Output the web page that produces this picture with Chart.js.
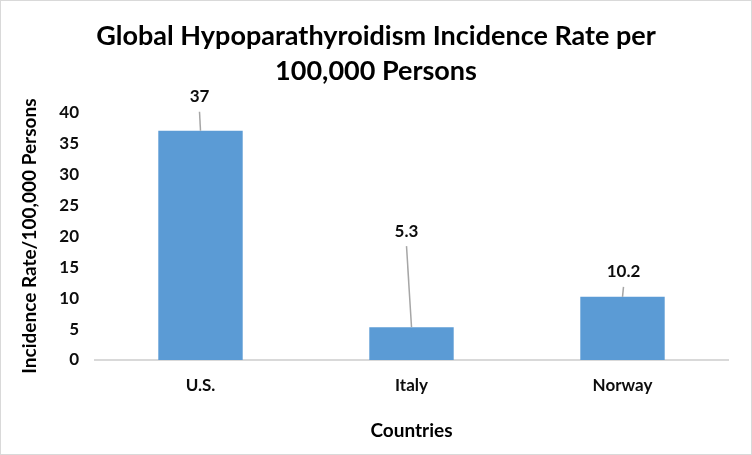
<!DOCTYPE html>
<html>
<head>
<meta charset="utf-8">
<script src="https://cdn.jsdelivr.net/npm/chart.js@4"></script>
<style>
  html, body { margin: 0; padding: 0; background: #fff; }
  #wrap { width: 752px; height: 455px; position: relative; }
</style>
</head>
<body>
<div id="wrap"><canvas id="incidenceChart" width="752" height="455"></canvas></div>
<script>
// data
var countries = ['U.S.', 'Italy', 'Norway'];
var incidence = [37, 5.3, 10.2];
var valueLabels = ['37', '5.3', '10.2'];
var yTicks = [0, 5, 10, 15, 20, 25, 30, 35, 40];

var FONT = 'Lato, "Open Sans", sans-serif';

// labels sit above the bars with a small grey leader line (pixel offsets from the bar top)
var labelOffsets = [[-1, -34], [-5, -96], [1, -25]];

var leaderLabels = {
  id: 'leaderLabels',
  afterDatasetsDraw: function(chart) {
    var ctx = chart.ctx;
    var meta = chart.getDatasetMeta(0);
    ctx.save();
    meta.data.forEach(function(bar, i) {
      var off = labelOffsets[i];
      var tx = bar.x + off[0];
      var ty = bar.y + off[1];
      // leader line
      ctx.strokeStyle = '#a6a6a6';
      ctx.lineWidth = 1.5;
      ctx.beginPath();
      ctx.moveTo(tx, ty + 15);
      ctx.lineTo(bar.x, bar.y);
      ctx.stroke();
      ctx.fillStyle = '#0d0d0d';
      ctx.font = 'bold 17px ' + FONT;
      ctx.textAlign = 'center';
      ctx.textBaseline = 'middle';
      ctx.fillText(valueLabels[i], tx, ty);
    });
    ctx.restore();
  }
};

var frame = {
  id: 'frame',
  beforeDraw: function(chart) {
    var ctx = chart.ctx;
    ctx.save();
    ctx.fillStyle = '#fff';
    ctx.fillRect(0, 0, chart.width, chart.height);
    ctx.strokeStyle = '#d9d9d9';
    ctx.lineWidth = 1;
    ctx.strokeRect(0.5, 0.5, chart.width - 1, chart.height - 1);
    ctx.restore();
  }
};

var ctx = document.getElementById('incidenceChart');
var myBarChart = new Chart(ctx, {
  type: 'bar',
  data: {
    labels: countries,
    datasets: [{
      data: incidence,
      backgroundColor: '#5b9bd5',
      borderWidth: 0,
      barPercentage: 0.40,
      categoryPercentage: 1.0
    }]
  },
  options: {
    responsive: false,
    animation: false,
    devicePixelRatio: 1,
    layout: { padding: 0 },
    plugins: {
      legend: { display: false },
      tooltip: { enabled: false },
      title: {
        display: true,
        text: ['Global Hypoparathyroidism Incidence Rate per', '100,000 Persons'],
        color: '#000',
        font: { family: FONT, size: 27, weight: 'bold', lineHeight: 1.3 },
        padding: { top: 19, bottom: 23 }
      }
    },
    scales: {
      y: {
        min: 0,
        max: 40,
        afterBuildTicks: function(scale) {
          scale.ticks = yTicks.map(function(v) { return { value: v }; });
        },
        afterFit: function(scale) { scale.width = 95; },
        grid: { display: false, drawTicks: false },
        border: { display: false },
        ticks: {
          color: '#0d0d0d',
          padding: 16,
          font: { family: FONT, size: 17, weight: 'bold' }
        },
        title: {
          display: true,
          text: 'Incidence Rate/100,000 Persons',
          color: '#000',
          font: { family: FONT, size: 19, weight: 'bold' },
          padding: { top: 18, bottom: 0 }
        }
      },
      // empty right-hand margin so the title stays centred on the whole canvas
      yRight: {
        position: 'right',
        min: 0,
        max: 40,
        afterFit: function(scale) { scale.width = 24; },
        grid: { display: false, drawTicks: false },
        border: { display: false },
        ticks: { display: false }
      },
      x: {
        afterFit: function(scale) { scale.height = 95; },
        grid: { display: false, drawTicks: false },
        border: { display: true, color: '#d9d9d9', width: 2 },
        ticks: {
          color: '#0d0d0d',
          padding: 15,
          font: { family: FONT, size: 17, weight: 'bold' }
        },
        title: {
          display: true,
          text: 'Countries',
          color: '#000',
          font: { family: FONT, size: 19, weight: 'bold' },
          padding: { top: 0, bottom: 13 }
        }
      }
    }
  },
  plugins: [frame, leaderLabels]
});
</script>
</body>
</html>
